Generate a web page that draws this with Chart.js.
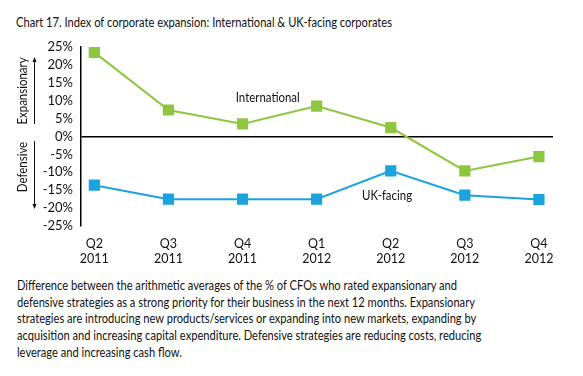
<!DOCTYPE html>
<html><head><meta charset="utf-8">
<script src="https://cdn.jsdelivr.net/npm/chart.js@4"></script>
<style>
html,body{margin:0;padding:0;background:#fff;width:583px;height:376px;overflow:hidden;}
#title{position:absolute;left:16px;top:14px;font:13.5px Lato,sans-serif;color:#111;white-space:nowrap;transform-origin:0 0;}
#wrap{position:absolute;left:0;top:0;width:583px;height:272px;}
#cap{position:absolute;left:17px;top:277px;font:13px Lato,sans-serif;line-height:16.7px;color:#111;white-space:nowrap;transform-origin:0 0;}
</style></head>
<body>
<div id="title">Chart 17. Index of corporate expansion: International &amp; UK-facing corporates</div>
<div id="wrap"><canvas id="c"></canvas></div>
<div id="cap"><span id="l1">Difference between the arithmetic averages of the % of CFOs who rated expansionary and</span><br>defensive strategies as a strong priority for their business in the next 12 months. Expansionary<br>strategies are introducing new products/services or expanding into new markets, expanding by<br>acquisition and increasing capital expenditure. Defensive strategies are reducing costs, reducing<br>leverage and increasing cash flow.</div>
<script>
const quarters = [["Q2","2011"],["Q3","2011"],["Q4","2011"],["Q1","2012"],["Q2","2012"],["Q3","2012"],["Q4","2012"]];
const international = [23.5, 7.4, 3.5, 8.5, 2.5, -9.6, -5.6];
const ukFacing = [-13.6, -17.5, -17.5, -17.5, -9.6, -16.4, -17.6];
const yTicks = [25,20,15,10,5,0,-5,-10,-15,-20,-25];

// condense text horizontally to match reference widths
(function(){
  const t = document.getElementById('title');
  const w = t.getBoundingClientRect().width; t.style.transform = 'scaleX(' + (376/w).toFixed(4) + ')';
  const c = document.getElementById('cap'), l1 = document.getElementById('l1');
  const w1 = l1.getBoundingClientRect().width; c.style.transform = 'scaleX(' + (440/w1).toFixed(4) + ')';
})();

const FONT = 'Lato, sans-serif';
const GREEN = '#8dc63f', BLUE = '#1ba3dd';

function condensedText(ctx, txt, x, y, sx){
  ctx.save(); ctx.translate(x, y); ctx.scale(sx, 1); ctx.fillText(txt, 0, 0); ctx.restore();
}

const decor = {
  id:'decor',
  afterDraw(chart){
    const ctx = chart.ctx, xs = chart.scales.x, ys = chart.scales.y;
    ctx.save();
    ctx.fillStyle = '#111';
    ctx.font = '13px ' + FONT;
    ctx.textAlign = 'center'; ctx.textBaseline = 'middle';
    condensedText(ctx, 'International', xs.getPixelForValue(2.34), ys.getPixelForValue(10.8), 0.88);
    condensedText(ctx, 'UK-facing', xs.getPixelForValue(3.95), ys.getPixelForValue(-16.7), 0.88);
    ctx.save();
    ctx.translate(23, 91); ctx.rotate(-Math.PI/2); ctx.scale(0.88,1);
    ctx.fillText('Expansionary', 0, 0);
    ctx.restore();
    ctx.save();
    ctx.translate(23, 167); ctx.rotate(-Math.PI/2); ctx.scale(0.88,1);
    ctx.fillText('Defensive', 0, 0);
    ctx.restore();
    ctx.strokeStyle = '#111'; ctx.lineWidth = 1;
    ctx.beginPath(); ctx.moveTo(34.5, 124); ctx.lineTo(34.5, 60); ctx.stroke();
    ctx.beginPath(); ctx.moveTo(32.5, 62); ctx.lineTo(34.5, 57); ctx.lineTo(36.5, 62); ctx.closePath(); ctx.fill();
    ctx.beginPath(); ctx.moveTo(34.5, 141); ctx.lineTo(34.5, 206); ctx.stroke();
    ctx.beginPath(); ctx.moveTo(32.5, 204); ctx.lineTo(34.5, 209); ctx.lineTo(36.5, 204); ctx.closePath(); ctx.fill();
    ctx.restore();
  }
};

new Chart(document.getElementById('c'), {
  type:'line',
  data:{
    datasets:[
      {label:'International', data: international.map((v,i)=>({x:i,y:v})), borderColor:GREEN, backgroundColor:GREEN, borderWidth:2, pointStyle:'rect', pointRadius:6.5, pointHoverRadius:6.5, tension:0},
      {label:'UK-facing', data: ukFacing.map((v,i)=>({x:i,y:v})), borderColor:BLUE, backgroundColor:BLUE, borderWidth:2, pointStyle:'rect', pointRadius:6.5, pointHoverRadius:6.5, tension:0}
    ]
  },
  options:{
    responsive:true, maintainAspectRatio:false, animation:false,
    layout:{padding:{top:47,right:30,left:0,bottom:0}},
    plugins:{legend:{display:false}, tooltip:{enabled:false}},
    scales:{
      x:{type:'linear', min:-0.18, max:6.19,
        afterBuildTicks(axis){ axis.ticks = quarters.map((_,i)=>({value:i})); },
        afterFit(scale){ scale.height = 46; },
        ticks:{callback:(v)=>quarters[v], color:'#111', font:{family:FONT,size:12.5}, padding:10, maxRotation:0, autoSkip:false},
        grid:{display:false, drawTicks:false}, border:{display:false}},
      y:{type:'linear', min:-25, max:25,
        afterBuildTicks(axis){ axis.ticks = yTicks.map(v=>({value:v})); },
        afterFit(scale){ scale.width = 81; },
        ticks:{callback:(v)=>v+'%', color:'#111', font:{family:FONT,size:13}, padding:8, autoSkip:false},
        grid:{drawTicks:false, lineWidth:1.5, color:(c)=> c.tick && c.tick.value===0 ? '#000' : 'rgba(0,0,0,0)'},
        border:{display:true, color:'#000', width:1.5}}
    }
  },
  plugins:[decor]
});
</script>
</body></html>
